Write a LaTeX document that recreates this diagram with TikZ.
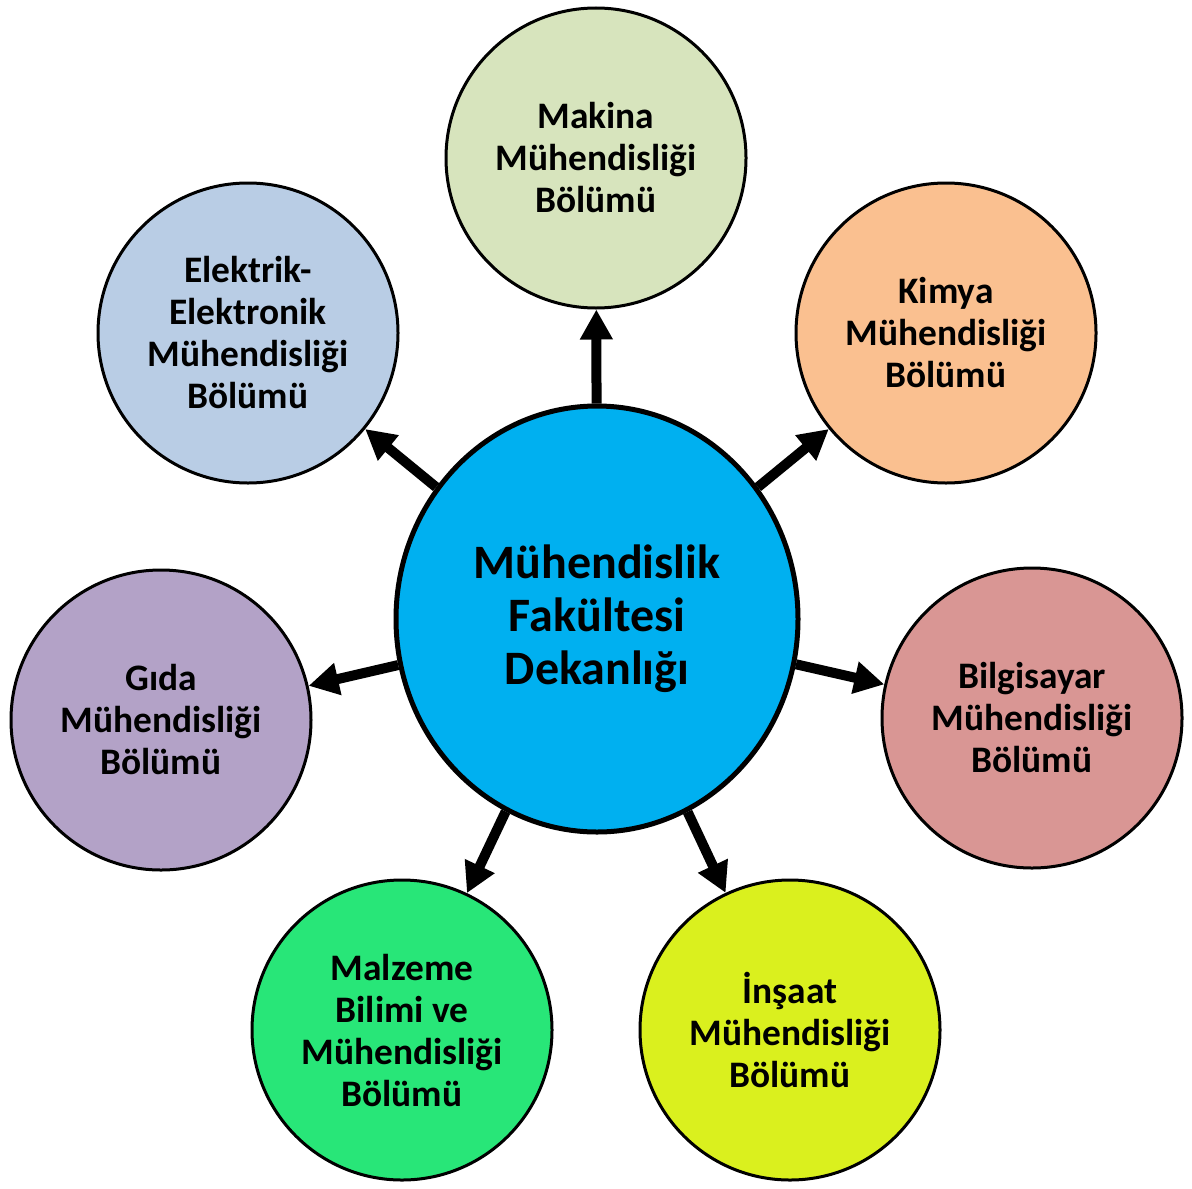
\documentclass[tikz,border=0pt]{standalone}
\usepackage{fontspec}
\setmainfont{Carlito}
\usetikzlibrary{shapes.geometric,arrows.meta}
\definecolor{dekanblue}{HTML}{00B0F0}
\definecolor{makinagreen}{HTML}{D7E4BD}
\definecolor{kimyaorange}{HTML}{FAC090}
\definecolor{bilgisayarred}{HTML}{D99694}
\definecolor{insaatyellow}{HTML}{DAF01E}
\definecolor{malzemegreen}{HTML}{28E678}
\definecolor{gidapurple}{HTML}{B3A2C7}
\definecolor{elektrikblue}{HTML}{B9CDE5}
\begin{document}
\begin{tikzpicture}[x=0.5pt, y=-0.5pt, every node/.style = {draw, align=center, inner sep=0pt, font=\bfseries}]
	\tikzstyle{dekan} = [ellipse, line width=2.5pt, minimum width=201pt, minimum height=213pt, font=\bfseries\fontsize{24}{26.5}\selectfont]
	\tikzstyle{bolum} = [circle, line width=1.5pt, minimum size=150pt, font=\bfseries\fontsize{18.7}{21}\selectfont]
	\tikzstyle{arr} = [-{Triangle[length=15pt, width=15.5pt]}, line width=5pt]
	\useasboundingbox (0,0) rectangle (1192,1188);
	\node[dekan, fill=dekanblue] (dekanlik) at (597,619) {Mühendislik\\Fakültesi\\Dekanlığı};
	\node[bolum, fill=makinagreen] (makina) at (596,158) {Makina\\Mühendisliği\\Bölümü};
	\node[bolum, fill=kimyaorange] (kimya) at (946,333) {Kimya\\Mühendisliği\\Bölümü};
	\node[bolum, fill=bilgisayarred] (bilgisayar) at (1032,718) {Bilgisayar\\Mühendisliği\\Bölümü};
	\node[bolum, fill=insaatyellow] (insaat) at (790,1030) {İnşaat\\Mühendisliği\\Bölümü};
	\node[bolum, fill=malzemegreen] (malzeme) at (402,1030) {Malzeme\\Bilimi ve\\Mühendisliği\\Bölümü};
	\node[bolum, fill=gidapurple] (gida) at (161,720) {Gıda\\Mühendisliği\\Bölümü};
	\node[bolum, fill=elektrikblue] (elektrik) at (248,333) {Elektrik-\\Elektronik\\Mühendisliği\\Bölümü};
	\foreach \b in {makina, kimya, bilgisayar, insaat, malzeme, gida, elektrik}
		\draw[arr] (dekanlik) -- (\b);
\end{tikzpicture}
\end{document}
